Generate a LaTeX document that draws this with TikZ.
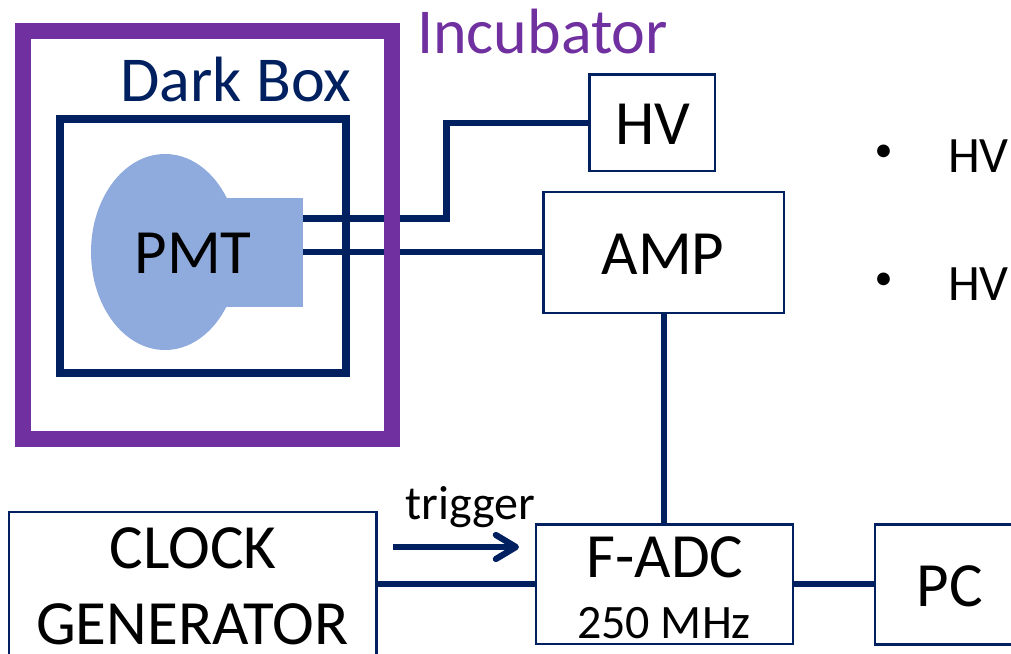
\documentclass[tikz,border=0pt]{standalone}
\usepackage{fontspec}
\setmainfont{Carlito}
\usetikzlibrary{arrows.meta}
\definecolor{navy}{RGB}{0,32,96}
\definecolor{purp}{RGB}{112,48,160}
\definecolor{pmtb}{RGB}{143,170,220}
\begin{document}
\begin{tikzpicture}[x=1pt,y=-1pt,
 every node/.style={outer sep=0pt,inner sep=0pt},
 box/.style={draw=navy,line width=2.2pt,fill=white,anchor=north west},
 wire/.style={draw=navy,line width=6.2pt},
 lab/.style={anchor=base,text=black,font=\fontsize{63}{63}\selectfont},
 smalllab/.style={anchor=base,text=black,font=\fontsize{48}{48}\selectfont},
 listlab/.style={anchor=base west,text=black,font=\fontsize{51}{51}\selectfont},
 bigcol/.style={anchor=base,font=\fontsize{64}{64}\selectfont}]
\useasboundingbox (0,0) rectangle (1011,653);
\begin{scope}
\clip (0,0) rectangle (1011,653);
\fill[pmtb] (165,252) ellipse [x radius=74pt,y radius=98pt];
\node[fill=pmtb,minimum width=77pt,minimum height=109pt,anchor=north west] (base) at (226,198) {};
\node[lab] (pmt) at (193,273) {PMT};
\node[box,minimum width=125.5pt,minimum height=96.5pt] (hv) at (589.5,74.5) {};
\node[lab] at (653,144.5) {HV};
\node[box,minimum width=240.5pt,minimum height=121pt] (amp) at (543.5,192) {};
\node[lab] at (663,274) {AMP};
\node[box,minimum width=367.5pt,minimum height=160pt] (clk) at (9,512) {};
\node[lab] at (193,568) {CLOCK};
\node[lab] at (192.5,644) {GENERATOR};
\node[box,minimum width=257pt,minimum height=119.5pt] (adc) at (536,524.5) {};
\node[lab] at (665,577.5) {F-ADC};
\node[smalllab] at (664,638.5) {250 MHz};
\node[box,minimum width=160pt,minimum height=120pt] (pc) at (875,524.5) {};
\node[lab] at (950,606.5) {PC};
\coordinate (hvout) at (303,218.5);
\coordinate (ampout) at (303,252);
\draw[wire] (hvout) -- (446.5,218.5) -- (446.5,123) -- (hv.west |- 0,123);
\draw[wire] (ampout) -- (amp.west |- 0,252);
\draw[wire] (664,313) -- (664,524.5);
\draw[wire] (clk.east |- 0,584.3) -- (adc.west |- 0,584.3);
\draw[wire] (adc.east |- 0,584.3) -- (pc.west |- 0,584.3);
\node[draw=navy,line width=7.5pt,minimum width=286pt,minimum height=254pt,anchor=north west] (dark) at (60,119) {};
\node[draw=purp,line width=16pt,minimum width=369pt,minimum height=408pt,anchor=north west] (inc) at (23,31) {};
\coordinate (trigs) at (393,547);
\coordinate (trige) at (519,547);
\draw[draw=navy,line width=6.2pt,-{Straight Barb[length=20pt,width=24pt,line width=6.2pt,round]}] (trigs) -- (trige);
\node[smalllab] at (470.5,519) {trigger};
\node[bigcol,text=navy] at (236,101.5) {Dark Box};
\node[bigcol,text=purp] at (542.5,53.5) {Incubator};
\node[font=\fontsize{36}{36}\selectfont,anchor=center] at (883.7,153) {•};
\node[listlab] at (948,172) {HV};
\node[font=\fontsize{36}{36}\selectfont,anchor=center] at (883.7,281) {•};
\node[listlab] at (948,300) {HV};
\end{scope}
\end{tikzpicture}
\end{document}
